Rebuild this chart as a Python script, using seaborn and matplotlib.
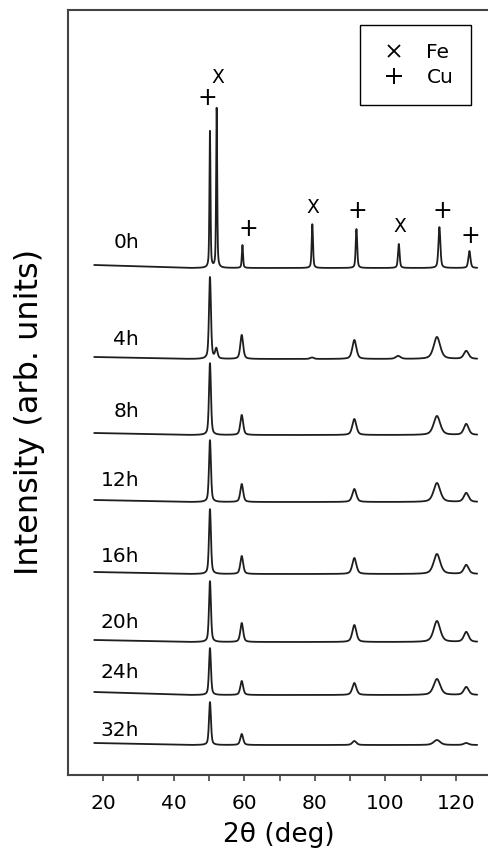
import numpy as np
import pandas as pd
import matplotlib

matplotlib.use("Agg")
import matplotlib.pyplot as plt
import seaborn as sns
from matplotlib.lines import Line2D

# --- data ------------------------------------------------------------------
hours = ["0h", "4h", "8h", "12h", "16h", "20h", "24h", "32h"]
offsets = [507, 416, 340, 273, 201, 133, 80, 30]          # vertical stacking
label_lift = [20, 14, 18, 16, 12, 14, 17, 9]                # label baseline above curve

peaks_0h = [50.3, 52.2, 59.5, 79.3, 91.8, 103.8, 115.3, 123.8]
peaks_milled = [50.3, 52.1, 59.3, 79.2, 91.2, 103.6, 114.6, 122.9]
widths_0h = [0.35, 0.35, 0.40, 0.45, 0.50, 0.55, 0.65, 0.70]
widths_milled = [0.65, 0.80, 0.95, 1.20, 1.35, 1.60, 2.20, 1.60]
heights = [
    [138, 160, 23, 44, 39, 24, 41, 17],
    [82, 10, 24, 1.5, 19, 3, 22, 8],
    [72, 0, 20, 0, 16, 0, 19, 11],
    [62, 0, 18, 0, 13, 0, 19, 9],
    [65, 0, 18, 0, 16, 0, 20, 9],
    [61, 0, 19, 0, 17, 0, 21, 10],
    [47, 0, 14, 0, 12, 0, 16, 8],
    [43, 0, 11, 0, 4, 0, 5, 2],
]
tilt = [3, 2, 2, 2, 2, 2, 3, 2]                              # low-angle background rise

mark_text = ["+", "X", "+", "X", "+", "X", "+", "+"]
mark_x = [49.7, 52.6, 61.1, 79.5, 92.2, 104.1, 116.0, 124.2]
mark_y = [677, 698, 546, 568, 564, 549, 564, 539]


def pseudo_voigt(x, c, h, fwhm, eta=0.5):
    d = (x - c) / fwhm
    return h * (eta / (1 + 4 * d**2) + (1 - eta) * np.exp(-4 * np.log(2) * d**2))


two_theta = np.linspace(17.5, 126, 2500)
frames = []
for i, name in enumerate(hours):
    pos = peaks_0h if i == 0 else peaks_milled
    wid = widths_0h if i == 0 else widths_milled
    y = np.full_like(two_theta, offsets[i], dtype=float)
    y += tilt[i] * np.clip((45 - two_theta) / (45 - 17.5), 0, 1)
    for c, h, w in zip(pos, heights[i], wid):
        if h > 0:
            y += pseudo_voigt(two_theta, c, h, w)
    frames.append(pd.DataFrame({"two_theta": two_theta, "intensity": y, "time": name}))
df = pd.concat(frames, ignore_index=True)

# --- figure ----------------------------------------------------------------
sns.set_style("ticks")
plt.rcParams["font.family"] = ["DejaVu Sans"]
plt.rcParams["text.color"] = "black"
plt.rcParams["axes.labelcolor"] = "black"
plt.rcParams["xtick.labelcolor"] = "black"

fig = plt.figure(figsize=(4.89, 8.49), dpi=100)
ax = fig.add_axes([68 / 489, 74 / 849, 421 / 489, 765 / 849])

for name in hours:
    sns.lineplot(data=df[df["time"] == name], x="two_theta", y="intensity",
                 ax=ax, color="#1e1e1e", lw=1.3, estimator=None, sort=False)

for i, name in enumerate(hours):
    ax.text(30.2, offsets[i] + label_lift[i], name, ha="right", va="baseline", fontsize=14.5)

for t, x, y in zip(mark_text, mark_x, mark_y):
    ax.text(x, y, t, ha="center", va="center", fontsize=17 if t == "+" else 13.5)

handles = [
    Line2D([], [], marker="x", ms=9, mew=1.3, ls="none", color="k"),
    Line2D([], [], marker="+", ms=12, mew=1.4, ls="none", color="k"),
]
leg = ax.legend(handles, ["Fe", "Cu"], loc="upper right", bbox_to_anchor=(0.957, 0.980),
                borderaxespad=0, fontsize=14.5, frameon=True, fancybox=False,
                edgecolor="k", framealpha=1, borderpad=0.875, handlelength=1.6,
                handletextpad=0.8, labelspacing=0.3)
leg.get_frame().set_linewidth(1.0)

ax.set_xlim(10.08, 129.35)
ax.set_ylim(0, 765)
ax.set_xticks(range(20, 121, 20))
ax.set_xticks(range(30, 111, 20), minor=True)
ax.set_yticks([])
ax.tick_params(which="both", direction="out", length=4, width=1.2, color="#444444")
ax.tick_params(axis="x", labelsize=14.5, pad=10)

for side in ["left", "bottom", "top"]:
    ax.spines[side].set_color("#444444")
    ax.spines[side].set_linewidth(1.5)
ax.spines["right"].set_visible(False)

ax.set_xlabel("2θ (deg)", fontsize=19, labelpad=6)
ax.set_ylabel("Intensity (arb. units)", fontsize=23)
ax.yaxis.set_label_coords(-0.055, 0.475)

fig.savefig("out.png", dpi=100)
